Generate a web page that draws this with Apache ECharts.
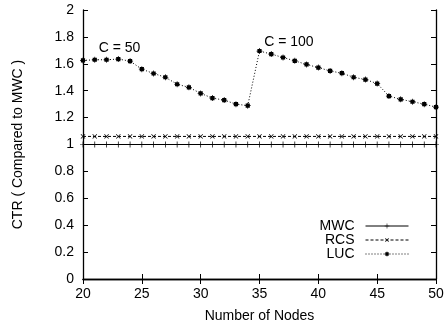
<!DOCTYPE html>
<html><head><meta charset="utf-8">
<script src="https://cdn.jsdelivr.net/npm/echarts@6/dist/echarts.min.js"></script>
<style>html,body{margin:0;padding:0;background:#fff}#c{width:447px;height:328px}</style>
</head><body><div id="c"></div>
<script>
const nodes = [20,21,22,23,24,25,26,27,28,29,30,31,32,33,34,35,36,37,38,39,40,41,42,43,44,45,46,47,48,49,50];
const mwc = [1,1,1,1,1,1,1,1,1,1,1,1,1,1,1,1,1,1,1,1,1,1,1,1,1,1,1,1,1,1,1];
const rcs = [1.06,1.06,1.06,1.06,1.06,1.06,1.06,1.06,1.06,1.06,1.06,1.06,1.06,1.06,1.06,1.06,1.06,1.06,1.06,1.06,1.06,1.06,1.06,1.06,1.06,1.06,1.06,1.06,1.06,1.06,1.06];
const luc = [1.625,1.63,1.63,1.635,1.62,1.56,1.528,1.5,1.448,1.425,1.38,1.345,1.33,1.30,1.289,1.695,1.672,1.647,1.622,1.595,1.572,1.547,1.53,1.5,1.483,1.453,1.36,1.336,1.318,1.30,1.278];
const seriesNames = ['MWC','RCS','LUC'];
const annotations = [{text:'C = 50', x:23.1, y:1.715},{text:'C = 100', x:37.5, y:1.76}];

const FONT = 'Liberation Sans';
const plusPath = 'path://M4.4,0H5.6V4.4H10V5.6H5.6V10H4.4V5.6H0V4.4H4.4Z';
const starPath = 'path://M4.4,0H5.6V4.4H10V5.6H5.6V10H4.4V5.6H0V4.4H4.4Z M1.5,1.5H8.5V8.5H1.5Z';
const pairs = v => nodes.map((n,i)=>[n, v[i]]);

const chart = echarts.init(document.getElementById('c'), null, {renderer:'canvas'});
const tickStyle = {show:true, inside:true, length:5, lineStyle:{color:'#000', width:1}};
const axisLine = {show:true, lineStyle:{color:'#000', width:1.3}};
chart.setOption({
  animation:false,
  textStyle:{fontFamily:FONT},
  grid:{left:83, right:11, top:10, bottom:49},
  legend:{
    orient:'vertical', right:38, bottom:67, align:'right', padding:0,
    itemWidth:43, itemHeight:6, itemGap:0,
    lineStyle:{width:1},
    textStyle:{fontFamily:FONT, fontSize:14, color:'#000', lineHeight:14, padding:[0,6,0,0]},
    data:seriesNames
  },
  xAxis:[{
    type:'value', min:20, max:50, interval:5,
    name:'Number of Nodes', nameLocation:'middle', nameGap:30,
    nameTextStyle:{fontFamily:FONT, fontSize:14, color:'#000'},
    axisLine, axisTick:tickStyle, splitLine:{show:false},
    axisLabel:{fontFamily:FONT, fontSize:14, color:'#000', margin:8}
  },{
    type:'value', min:20, max:50, interval:5, position:'top',
    axisLine, axisTick:tickStyle, splitLine:{show:false}, axisLabel:{show:false}
  }],
  yAxis:[{
    type:'value', min:0, max:2, interval:0.2,
    name:'CTR ( Compared to MWC )', nameLocation:'middle', nameGap:58, nameRotate:90,
    nameTextStyle:{fontFamily:FONT, fontSize:14, color:'#000'},
    axisLine, axisTick:tickStyle, splitLine:{show:false},
    axisLabel:{fontFamily:FONT, fontSize:14, color:'#000', margin:9}
  },{
    type:'value', min:0, max:2, interval:0.2, position:'right',
    axisLine, axisTick:tickStyle, splitLine:{show:false}, axisLabel:{show:false}
  }],
  series:[
    {name:'MWC', type:'line', data:pairs(mwc), symbol:plusPath, symbolSize:6,
     itemStyle:{color:'#000'}, lineStyle:{color:'#000', width:1.2, type:'solid'}},
    {name:'RCS', type:'line', data:pairs(rcs), symbol:plusPath, symbolSize:6, symbolRotate:45,
     itemStyle:{color:'#000'}, lineStyle:{color:'#000', width:1, type:[3,2]}},
    {name:'LUC', type:'line', data:pairs(luc), symbol:starPath, symbolSize:6,
     itemStyle:{color:'#000'}, lineStyle:{color:'#000', width:1, type:[1,2]},
     markPoint:{symbol:'rect', symbolSize:2, silent:true,
       itemStyle:{color:'rgba(0,0,0,0)'},
       label:{show:true, formatter:p=>p.name, fontFamily:FONT, fontSize:14, color:'#000', position:'inside'},
       data:annotations.map(a=>({name:a.text, coord:[a.x, a.y], value:a.text}))}}
  ]
});
</script></body></html>
